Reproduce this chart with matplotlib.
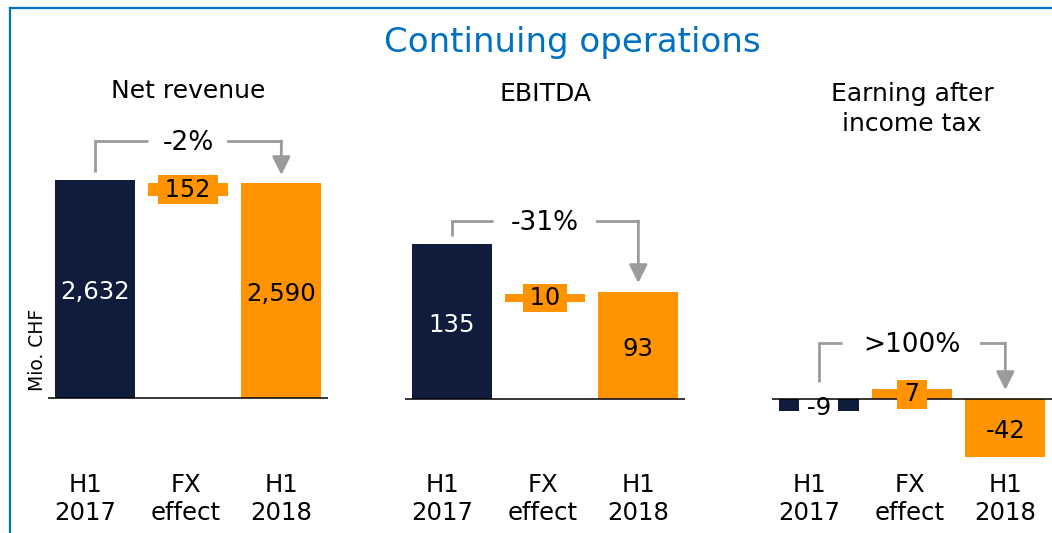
import matplotlib
matplotlib.use("Agg")
import matplotlib.pyplot as plt
from matplotlib.lines import Line2D

W, H = 1052, 533
DPI = 100

# ---------------- data ----------------
main_title = "Continuing operations"
panel_titles = ["Net revenue", "EBITDA", "Earning after\nincome tax"]
categories = ["H1\n2017", "FX\neffect", "H1\n2018"]
h1_2017 = [2632, 135, -9]
fx_effect = [152, 10, 7]
h1_2018 = [2590, 93, -42]
fx_band_low = [2438, 84.5, 0]
fx_band_high = [2590, 91.5, 7]
changes = ["-2%", "-31%", ">100%"]
unit_label = "Mio. CHF"

# ---------------- style / layout (pixels) ----------------
NAVY = "#101C3C"
ORANGE = "#FF9300"
GREY = "#9B9B9B"
BLUE = "#0070C0"

ax_left = [48, 405, 772]
ax_width = 280
base_px = [398, 399, 399]
px_per_unit = [218 / 2632, 1.148, 1.38]
bracket_px = [141, 221, 343]
left_end_px = [172, 236, 382]
tip_px = [175, 283, 390]
gap_half_px = [40.5, 52, 69.5]
title_base_px = [98, 101, 101]
cat_dx_px = [-9, -2, 0]
THIN = "\u2009"

FS_VAL = 17.6
FS_FX = 17.2
FS_PCT = 19
FS_PT = 18
FS_CAT = 17.6

plt.rcParams["font.family"] = ["DejaVu Sans"]

fig = plt.figure(figsize=(W / DPI, H / DPI), dpi=DPI)

for i in range(3):
    ax = fig.add_axes([ax_left[i] / W, 0, ax_width / W, 1])
    s = px_per_unit[i]
    b = base_px[i]
    ax.set_ylim(-(H - b) / s, b / s)
    ax.set_xlim(-0.5, 2.5)
    ax.axis("off")
    upx = 3.0 / ax_width

    def py(p, b=b, s=s):
        return (b - p) / s

    # bars
    ax.bar(0, h1_2017[i], width=0.855, color=NAVY, zorder=2)
    ax.bar(2, h1_2018[i], width=0.855, color=ORANGE, zorder=2)
    ax.bar(1, fx_band_high[i] - fx_band_low[i], bottom=fx_band_low[i],
           width=0.86, color=ORANGE, zorder=2)
    ax.axhline(0, color="black", lw=1.1, zorder=4)

    # value labels
    for x, v, col in [(0, h1_2017[i], "white"), (2, h1_2018[i], "black")]:
        y = v / 2 - 10 / s
        txt = f"{v:,}"
        if abs(v) * s < 30:
            ax.text(x, y, THIN + txt + THIN, ha="center", va="baseline",
                    fontsize=FS_VAL, color="black", zorder=3.5,
                    bbox=dict(boxstyle="square,pad=0.1", fc="white", ec="none"))
        else:
            ax.text(x, y, txt, ha="center", va="baseline", fontsize=FS_VAL,
                    color=col, zorder=5)

    # FX label
    ax.text(1, (fx_band_low[i] + fx_band_high[i]) / 2,
            THIN + f"{fx_effect[i]:,}" + THIN, ha="center", va="center",
            fontsize=FS_FX, color="black", zorder=5,
            bbox=dict(boxstyle="square,pad=0.1", fc=ORANGE, ec="none"))

    # bracket with arrow
    g = gap_half_px[i] * upx
    ax.plot([0, 0, 1 - g], [py(left_end_px[i]), py(bracket_px[i]), py(bracket_px[i])],
            color=GREY, lw=2, solid_capstyle="butt", solid_joinstyle="miter", zorder=3)
    ax.plot([1 + g, 2], [py(bracket_px[i])] * 2, color=GREY, lw=2,
            solid_capstyle="projecting", zorder=3)
    ax.annotate("", xy=(2, py(tip_px[i])), xytext=(2, py(bracket_px[i])),
                arrowprops=dict(arrowstyle="-|>,head_length=1.1,head_width=0.55",
                                color=GREY, lw=2, shrinkA=0, shrinkB=0,
                                mutation_scale=10), zorder=3)
    ax.text(1, py(bracket_px[i] + 9), changes[i], ha="center", va="baseline",
            fontsize=FS_PCT, color="black", zorder=5)

    # panel title
    for j, line in enumerate(panel_titles[i].split("\n")):
        ax.text(1, py(title_base_px[i] + 30 * j), line, ha="center",
                va="baseline", fontsize=FS_PT, color="black")

    # category labels
    for k, cat in enumerate(categories):
        for j, line in enumerate(cat.split("\n")):
            ax.text(k + cat_dx_px[k] * upx, py(492 + 28 * j), line,
                    ha="center", va="baseline", fontsize=FS_CAT, color="black")

# main title and unit label
fig.text(572.5 / W, 1 - 52 / H, main_title, ha="center", va="baseline",
         fontsize=24.5, color=BLUE)
fig.text(38 / W, 1 - 350 / H, unit_label, rotation=90, ha="center",
         va="center", fontsize=13.5, color="black")

# blue frame
fig.add_artist(Line2D([10 / W, 1], [1 - 7.5 / H] * 2, transform=fig.transFigure,
                      color=BLUE, lw=1.6))
fig.add_artist(Line2D([10 / W, 10 / W], [0, 1 - 7.5 / H], transform=fig.transFigure,
                      color=BLUE, lw=1.6))

fig.savefig("out.png", dpi=DPI)
